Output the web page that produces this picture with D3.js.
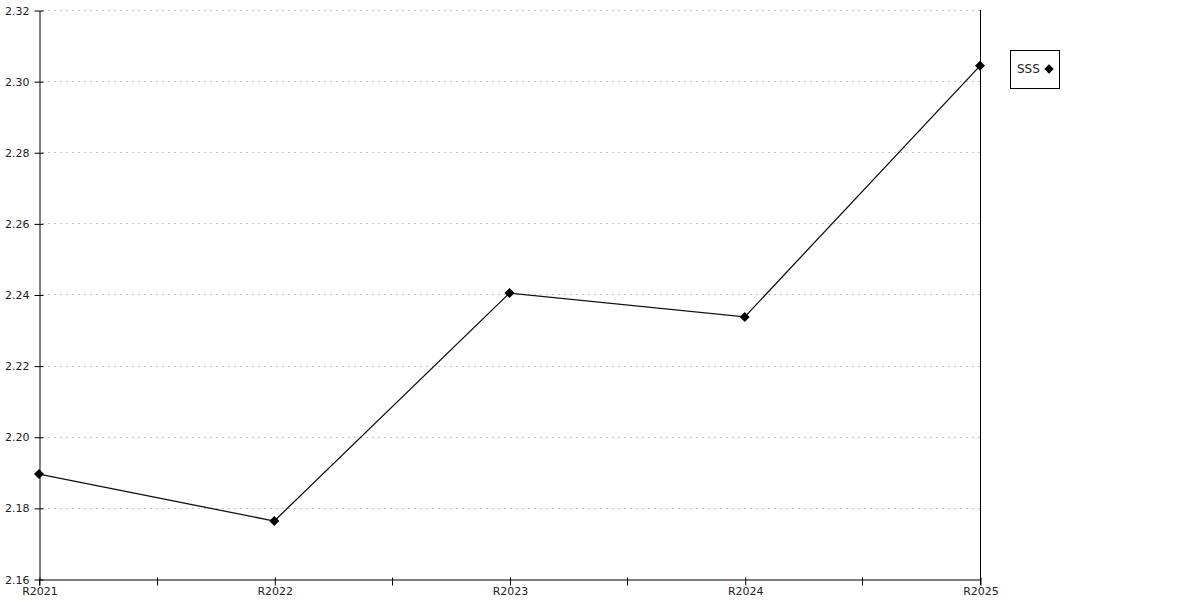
<!DOCTYPE html>
<html>
<head>
<meta charset="utf-8">
<script src="https://cdn.jsdelivr.net/npm/d3@7"></script>
<style>
  html, body { margin: 0; padding: 0; background: #fff; }
  svg { display: block; font-family: "DejaVu Sans", sans-serif; }
</style>
</head>
<body>
<svg id="chart" width="1200" height="600"></svg>
<script>
const categories = ["R2021", "R2022", "R2023", "R2024", "R2025"];
const seriesName = "SSS";
const values = [2.1895, 2.1763, 2.2404, 2.2337, 2.3043];
const yTicks = [2.16, 2.18, 2.20, 2.22, 2.24, 2.26, 2.28, 2.30, 2.32];

const svg = d3.select("#chart");
const mLeft = 39, mRight = 980, mTop = 10, mBottom = 579;

const x = d3.scalePoint().domain(categories).range([mLeft, mRight]);
const y = d3.scaleLinear().domain([2.16, 2.32]).range([mBottom, mTop]);

// grid
svg.append("g").selectAll("line").data(yTicks.slice(1)).join("line")
  .attr("x1", mLeft + 3).attr("x2", mRight)
  .attr("y1", d => Math.round(y(d)) + 0.5).attr("y2", d => Math.round(y(d)) + 0.5)
  .attr("stroke", "#c4c4c4").attr("stroke-dasharray", "2,4").attr("stroke-width", 1);

// y axis
const yAxis = d3.axisLeft(y).tickValues(yTicks).tickFormat(d3.format(".2f")).tickSizeInner(5).tickSizeOuter(0);
const gy = svg.append("g").attr("transform", `translate(${mLeft + 0.5},0.5)`).call(yAxis);
gy.select(".domain").attr("stroke", "#000");
gy.selectAll(".tick line").attr("x1", -5).attr("x2", 4).attr("stroke", "#000");
gy.selectAll(".tick text").attr("x", -10).attr("font-size", 11).attr("fill", "#222")
  .attr("font-family", "DejaVu Sans, sans-serif");
gy.append("line").attr("x1", 0).attr("x2", 0).attr("y1", mBottom).attr("y2", mBottom + 6).attr("stroke", "#000");

// right vertical line
svg.append("line").attr("x1", mRight + 0.5).attr("x2", mRight + 0.5)
  .attr("y1", mTop).attr("y2", mBottom + 6).attr("stroke", "#000");

// x axis
const xAxis = d3.axisBottom(x).tickSizeInner(6).tickSizeOuter(0).tickPadding(2);
const gx = svg.append("g").attr("transform", `translate(0.5,${mBottom + 0.5})`).call(xAxis);
gx.select(".domain").attr("stroke", "#000");
gx.selectAll(".tick line").attr("y1", -2).attr("stroke", "#000");
gx.selectAll(".tick text").attr("font-size", 11).attr("fill", "#222")
  .attr("font-family", "DejaVu Sans, sans-serif");
const mids = categories.slice(0, -1).map((c, i) => (x(c) + x(categories[i + 1])) / 2);
gx.append("g").selectAll("line").data(mids).join("line")
  .attr("x1", d => Math.round(d)).attr("x2", d => Math.round(d))
  .attr("y1", -2).attr("y2", 6).attr("stroke", "#000");

// line
const line = d3.line().x((d, i) => x(categories[i])).y(d => y(d));
svg.append("path").datum(values).attr("d", line)
  .attr("fill", "none").attr("stroke", "#111").attr("stroke-width", 1.3);

// markers
svg.append("g").selectAll("path").data(values).join("path")
  .attr("d", d3.symbol().type(d3.symbolSquare).size(50)())
  .attr("transform", (d, i) => `translate(${x(categories[i])},${y(d)}) rotate(45)`)
  .attr("fill", "#000");

// legend
const lg = svg.append("g");
lg.append("rect").attr("x", 1010.5).attr("y", 50.5).attr("width", 49).attr("height", 38)
  .attr("fill", "#fff").attr("stroke", "#000");
lg.append("text").attr("x", 1017).attr("y", 73).attr("font-size", 12).attr("fill", "#222")
  .text(seriesName);
lg.append("path").attr("d", d3.symbol().type(d3.symbolSquare).size(44)())
  .attr("transform", "translate(1049,69) rotate(45)").attr("fill", "#000");
</script>
</body>
</html>
